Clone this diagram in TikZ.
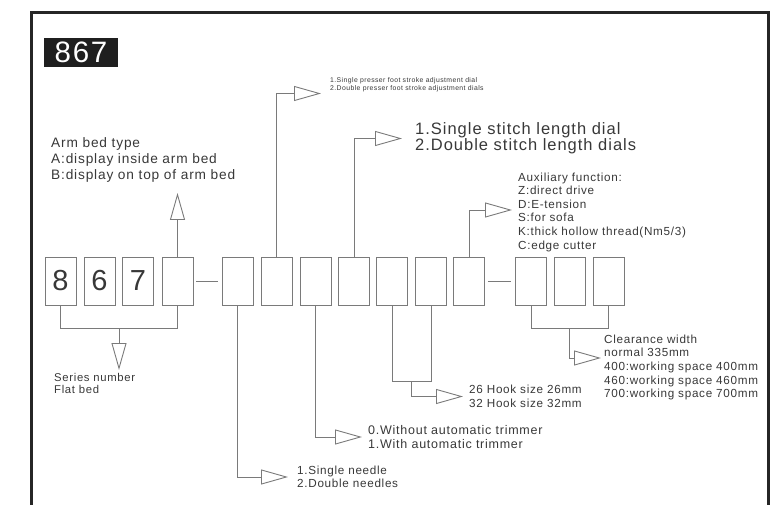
\documentclass[tikz,border=0pt]{standalone}
\usepackage{fontspec}
\setmainfont{Liberation Sans}
\newfontfamily\labfont[LetterSpace=6]{Liberation Sans}
\usetikzlibrary{arrows.meta,positioning}
\definecolor{boxgray}{HTML}{7A7A7A}
\definecolor{textgray}{HTML}{383838}
\tikzset{
  digitbox/.style={draw=boxgray, line width=0.9pt, minimum width=31pt, minimum height=48pt,
    inner sep=0pt, text=textgray, font=\labfont\fontsize{29}{29}\selectfont},
  link/.style={draw=boxgray, line width=0.9pt},
  hollowtip/.style={-{Triangle[open,length=27pt,width=15pt]}},
  note/.style={text=textgray, align=left, inner sep=0pt, anchor=west},
  smallnote/.style={note, font=\labfont\fontsize{11.7}{13.6}\selectfont},
}
\begin{document}
\begin{tikzpicture}[x=1pt,y=-1pt]
      \useasboundingbox (0,0) rectangle (782,505);

      % FRAME
      \draw[line width=2.6pt, black!85] (31.5,506) -- (31.5,12.5) -- (768.5,12.5) -- (768.5,506);
      \node[fill=black!88, text=white, minimum width=74pt, minimum height=29pt, inner sep=0pt,
        font=\labfont\fontsize{29.5}{30}\selectfont] (title) at (81,52.5) {867};

      % CODE BOXES
      \node[digitbox] (s8) at (60.5,281) {8};
      \node[digitbox] (s6) at (99.5,281) {6};
      \node[digitbox] (s7) at (138,281) {7};
      \node[digitbox] (armbed) at (177.5,281) {};
      \node[digitbox] (needle) at (237.5,281) {};
      \node[digitbox] (presser) at (276.5,281) {};
      \node[digitbox] (trimmer) at (315.5,281) {};
      \node[digitbox] (stitch) at (354,281) {};
      \node[digitbox] (hookA) at (392,281) {};
      \node[digitbox] (hookB) at (431,281) {};
      \node[digitbox] (aux) at (469,281) {};
      \node[digitbox] (cwA) at (531,281) {};
      \node[digitbox] (cwB) at (569.5,281) {};
      \node[digitbox] (cwC) at (608.5,281) {};

      \draw[link, shorten <=3pt, shorten >=4pt] (armbed.east) -- (needle.west);
      \draw[link, shorten <=3pt, shorten >=4pt] (aux.east) -- (cwA.west);

      % NOTES
      \node[note, font=\labfont\fontsize{13.7}{16}\selectfont] (armtxt) at (51,160)
        {Arm bed type\\A:display inside arm bed\\B:display on top of arm bed};
      \node[note, anchor=north west, font=\labfont\fontsize{11.3}{12.5}\selectfont] (sertxt) at (54,373)
        {Series number\\Flat bed};
      \node[smallnote] (needletxt) at (297,477) {1.Single needle\\2.Double needles};
      \node[note, font=\labfont\fontsize{6.85}{7.8}\selectfont] (pftxt) at (330,85)
        {1.Single presser foot stroke adjustment dial\\2.Double presser foot stroke adjustment dials};
      \node[note, font=\labfont\fontsize{12.5}{13.4}\selectfont] (trimtxt) at (368,437)
        {0.Without automatic trimmer\\1.With automatic trimmer};
      \node[note, font=\labfont\fontsize{16.5}{16}\selectfont] (stitchtxt) at (415,138.5)
        {1.Single stitch length dial\\2.Double stitch length dials};
      \node[smallnote] (hooktxt) at (469,396.5) {26 Hook size 26mm\\32 Hook size 32mm};
      \node[smallnote] (auxtxt) at (518,212)
        {Auxiliary function:\\Z:direct drive\\D:E-tension\\S:for sofa\\K:thick hollow thread(Nm5/3)\\C:edge cutter};
      \node[smallnote] (cwtxt) at (604,367.5)
        {Clearance width\\normal 335mm\\400:working space 400mm\\460:working space 460mm\\700:working space 700mm};

      % ARROWS
      \coordinate (armtip) at (177.5,193);
      \draw[link, hollowtip] (armbed.north) -- (armtip);

      \draw[link] (s8.south) -- ++(0,23) -| (armbed.south);
      \coordinate (serjoin) at (119,328);
      \coordinate (sertip) at (119,370);
      \draw[link, hollowtip] (serjoin) -- (sertip);

      \draw[link, hollowtip, shorten >=9pt] (needle.south) |- (needletxt.west);
      \draw[link, hollowtip] (presser.north) |- ([xshift=-9pt,yshift=-8.5pt]pftxt.west);
      \draw[link, hollowtip, shorten >=6pt] (trimmer.south) |- (trimtxt.west);
      \draw[link, hollowtip, shorten >=13pt] (stitch.north) |- (stitchtxt.west);

      \draw[link] (hookA.south) -- ++(0,76) -| (hookB.south);
      \coordinate (hookjoin) at (411.5,381);
      \draw[link, hollowtip, shorten >=6pt] (hookjoin) |- (hooktxt.west);

      \draw[link, hollowtip, shorten >=6pt] (aux.north) |- ([yshift=2pt]auxtxt.west);

      \draw[link] (cwA.south) -- ++(0,23) -| (cwC.south);
      \coordinate (cwjoin) at (569.5,328);
      \draw[link, hollowtip, shorten >=3pt] (cwjoin) |- ([yshift=9.5pt]cwtxt.west);
\end{tikzpicture}
\end{document}
